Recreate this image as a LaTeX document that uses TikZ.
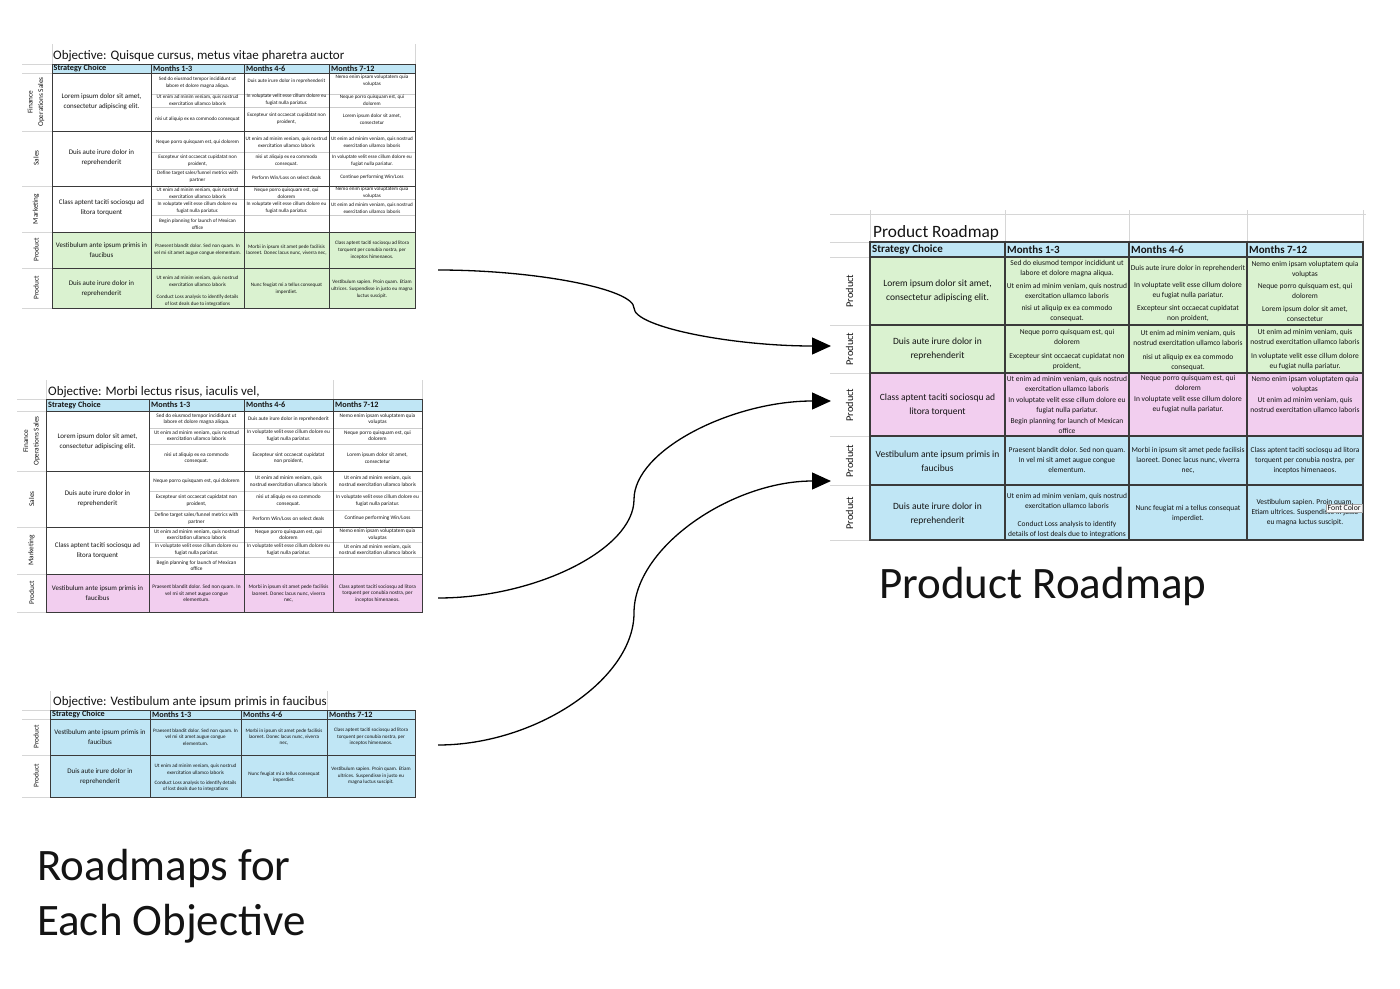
\documentclass[tikz,border=0pt]{standalone}
\usepackage{fontspec}
\setmainfont{Carlito}
\usetikzlibrary{arrows.meta}
\definecolor{hblue}{HTML}{C0E6F5}
\definecolor{lgreen}{HTML}{DAF2D0}
\definecolor{lpink}{HTML}{F2CEEF}
\definecolor{bordc}{HTML}{3A3A3A}
\definecolor{gridc}{HTML}{D6D6D6}
\definecolor{subc}{HTML}{CCCCCC}
\definecolor{txtc}{HTML}{141414}
\tikzset{
  gridl/.style={draw=gridc, line width=0.8pt},
  subl/.style={draw=subc, line width=0.5pt},
  bsm/.style={draw=bordc, line width=0.9pt},
  bbig/.style={draw=bordc, line width=1.5pt},
  tx/.style={inner sep=0pt, align=center, text=txtc},
  bodyA/.style={tx, font=\fontsize{5.1}{6.8}\selectfont},
  bodyB/.style={tx, font=\fontsize{5.3}{6.5}\selectfont},
  bodyC/.style={tx, font=\fontsize{5.1}{6.4}\selectfont},
  bodyD/.style={tx, font=\fontsize{7.5}{10}\selectfont},
  stratA/.style={tx, font=\fontsize{7}{10}\selectfont},
  stratD/.style={tx, font=\fontsize{9.5}{14}\selectfont},
  headA/.style={tx, anchor=west, font=\bfseries\fontsize{8.2}{9}\selectfont},
  headD/.style={tx, anchor=west, font=\bfseries\fontsize{11}{12}\selectfont},
  labA/.style={tx, rotate=90, font=\fontsize{7.3}{10.5}\selectfont},
  labD/.style={tx, rotate=90, font=\fontsize{10.3}{12}\selectfont},
  ttlA/.style={tx, anchor=base west, font=\fontsize{13}{14}\selectfont},
  ttlD/.style={tx, anchor=base west, font=\fontsize{17.3}{18}\selectfont},
  bigtext/.style={tx, anchor=base west, font=\fontsize{45}{50}\selectfont},
  conn/.style={draw=black, line width=1.3pt, -{Triangle[length=19pt,width=17pt]}},
}
\begin{document}
\begin{tikzpicture}[x=1pt,y=-1pt]
\fill[white] (0,0) rectangle (1400,988);
\useasboundingbox (0,0) rectangle (1400,988);

%% ================= TABLE A =================
\fill[hblue] (52,64) rectangle (415,73);
\fill[lgreen] (52,232) rectangle (415,308);
\foreach \yy in {64,73,131,186,232,268,308} \draw[gridl] (22,\yy) -- (52,\yy);
\draw[gridl] (52,44) -- (52,64);
\draw[gridl] (415,44) -- (415,64);
\foreach \yy in {94,107,152,169,199,215} \draw[subl] (151,\yy) -- (415,\yy);
\draw[bsm] (52,64) rectangle (415,308);
\foreach \yy in {73,131,186,232,268} \draw[bsm] (52,\yy) -- (415,\yy);
\foreach \xx in {151,244,329} \draw[bsm] (\xx,64) -- (\xx,308);
\node[ttlA] (a-t) at (53,59) {Objective: Quisque cursus, metus vitae pharetra auctor};
\node[headA] (a-h0) at (53.5,68.5) {Strategy Choice};
\node[headA] (a-h1) at (153,68.5) {Months 1-3};
\node[headA] (a-h2) at (246,68.5) {Months 4-6};
\node[headA] (a-h3) at (331,68.5) {Months 7-12};
\node[labA] (a-l1) at (36,102) {Finance\\Operations Sales};
\node[labA] (a-l2) at (36,158) {Sales};
\node[labA] (a-l3) at (36,209) {Marketing};
\node[labA] (a-l4) at (36,250) {Product};
\node[labA] (a-l5) at (36,288) {Product};
\node[stratA] (a-s1) at (101.5,102) {Lorem ipsum dolor sit amet,\\consectetur adipiscing elit.};
\node[stratA] (a-s2) at (101.5,158) {Duis aute irure dolor in\\reprehenderit};
\node[stratA] (a-s3) at (101.5,208) {Class aptent taciti sociosqu ad\\litora torquent};
\node[stratA] (a-s4) at (101.5,250) {Vestibulum ante ipsum primis in\\faucibus};
\node[stratA] (a-s5) at (101.5,289) {Duis aute irure dolor in\\reprehenderit};
\node[bodyA] (a-11a) at (197.5,83) {Sed do eiusmod tempor incididunt ut\\labore et dolore magna aliqua.};
\node[bodyA] (a-11b) at (197.5,100) {Ut enim ad minim veniam, quis nostrud\\exercitation ullamco laboris};
\node[bodyA] (a-11c) at (197.5,119) {nisi ut aliquip ex ea commodo consequat};
\node[bodyA] (a-12a) at (286.5,81) {Duis aute irure dolor in reprehenderit};
\node[bodyA] (a-12b) at (286.5,100) {In voluptate velit esse cillum dolore eu\\fugiat nulla pariatur.};
\node[bodyA] (a-12c) at (286.5,119) {Excepteur sint occaecat cupidatat non\\proident,};
\node[bodyA] (a-13a) at (372,81) {Nemo enim ipsam voluptatem quia\\voluptas};
\node[bodyA] (a-13b) at (372,100) {Neque porro quisquam est, qui\\dolorem};
\node[bodyA] (a-13c) at (372,119) {Lorem ipsum dolor sit amet,\\consectetur};
\node[bodyA] (a-21a) at (197.5,142) {Neque porro quisquam est, qui dolorem};
\node[bodyA] (a-21b) at (197.5,160.5) {Excepteur sint occaecat cupidatat non\\proident,};
\node[bodyA] (a-21c) at (197.5,177) {Define target sales/funnel metrics with\\partner};
\node[bodyA] (a-22a) at (286.5,142) {Ut enim ad minim veniam, quis nostrud\\exercitation ullamco laboris};
\node[bodyA] (a-22b) at (286.5,160.5) {nisi ut aliquip ex ea commodo\\consequat.};
\node[bodyA] (a-22c) at (286.5,177.5) {Perform Win/Loss on select deals};
\node[bodyA] (a-23a) at (372,142) {Ut enim ad minim veniam, quis nostrud\\exercitation ullamco laboris};
\node[bodyA] (a-23b) at (372,160.5) {In voluptate velit esse cillum dolore eu\\fugiat nulla pariatur.};
\node[bodyA] (a-23c) at (372,177.5) {Continue performing Win/Loss};
\node[bodyA] (a-31a) at (197.5,193) {Ut enim ad minim veniam, quis nostrud\\exercitation ullamco laboris};
\node[bodyA] (a-31b) at (197.5,208) {In voluptate velit esse cillum dolore eu\\fugiat nulla pariatur.};
\node[bodyA] (a-31c) at (197.5,224.5) {Begin planning for launch of Mexican\\office};
\node[bodyA] (a-32a) at (286.5,193) {Neque porro quisquam est, qui\\dolorem};
\node[bodyA] (a-32b) at (286.5,208) {In voluptate velit esse cillum dolore eu\\fugiat nulla pariatur.};
\node[bodyA] (a-33a) at (372,193) {Nemo enim ipsam voluptatem quia\\voluptas};
\node[bodyA] (a-33b) at (372,208) {Ut enim ad minim veniam, quis nostrud\\exercitation ullamco laboris};
\node[bodyA] (a-41) at (197.5,250) {Praesent blandit dolor. Sed non quam. In\\vel mi sit amet augue congue elementum.};
\node[bodyA] (a-42) at (286.5,250) {Morbi in ipsum sit amet pede facilisis\\laoreet. Donec lacus nunc, viverra nec,};
\node[bodyA] (a-43) at (372,250) {Class aptent taciti sociosqu ad litora\\torquent per conubia nostra, per\\inceptos himenaeos.};
\node[bodyA] (a-51) at (197.5,291) {Ut enim ad minim veniam, quis nostrud\\exercitation ullamco laboris\\[5pt]Conduct Loss analysis to identify details\\of lost deals due to integrations};
\node[bodyA] (a-52) at (286.5,289) {Nunc feugiat mi a tellus consequat\\imperdiet.};
\node[bodyA] (a-53) at (372,289) {Vestibulum sapien. Proin quam. Etiam\\ultrices. Suspendisse in justo eu magna\\luctus suscipit.};

%% ================= TABLE B =================
\fill[hblue] (46,399) rectangle (422,411);
\fill[lpink] (46,574) rectangle (422,612);
\foreach \yy in {399,411,471,527,574,612} \draw[gridl] (17,\yy) -- (46,\yy);
\draw[gridl] (46,380) -- (46,399);
\draw[gridl] (333,380) -- (333,399);
\draw[gridl] (422,380) -- (422,399);
\foreach \yy in {428,444,491,510,542,557} \draw[subl] (149,\yy) -- (422,\yy);
\draw[bsm] (46,399) rectangle (422,612);
\foreach \yy in {411,471,527,574} \draw[bsm] (46,\yy) -- (422,\yy);
\foreach \xx in {149,244,333} \draw[bsm] (\xx,399) -- (\xx,612);
\node[ttlA] (b-t) at (48,395.5) {Objective: Morbi lectus risus, iaculis vel,};
\node[headA] (b-h0) at (48,405) {Strategy Choice};
\node[headA] (b-h1) at (151,405) {Months 1-3};
\node[headA] (b-h2) at (246,405) {Months 4-6};
\node[headA] (b-h3) at (335,405) {Months 7-12};
\node[labA] (b-l1) at (31.5,441) {Finance\\Operations Sales};
\node[labA] (b-l2) at (31.5,499) {Sales};
\node[labA] (b-l3) at (31.5,550.5) {Marketing};
\node[labA] (b-l4) at (31.5,593) {Product};
\node[stratA] (b-s1) at (97.5,441.5) {Lorem ipsum dolor sit amet,\\consectetur adipiscing elit.};
\node[stratA] (b-s2) at (97.5,499) {Duis aute irure dolor in\\reprehenderit};
\node[stratA] (b-s3) at (97.5,550.5) {Class aptent taciti sociosqu ad\\litora torquent};
\node[stratA] (b-s4) at (97.5,593) {Vestibulum ante ipsum primis in\\faucibus};
\node[bodyB] (b-11a) at (196.5,419) {Sed do eiusmod tempor incididunt ut\\labore et dolore magna aliqua.};
\node[bodyB] (b-11b) at (196.5,435.8) {Ut enim ad minim veniam, quis nostrud\\exercitation ullamco laboris};
\node[bodyB] (b-11c) at (196.5,458) {nisi ut aliquip ex ea commodo\\consequat.};
\node[bodyB] (b-12a) at (288.5,419) {Duis aute irure dolor in reprehenderit};
\node[bodyB] (b-12b) at (288.5,435.8) {In voluptate velit esse cillum dolore eu\\fugiat nulla pariatur.};
\node[bodyB] (b-12c) at (288.5,458) {Excepteur sint occaecat cupidatat\\non proident,};
\node[bodyB] (b-13a) at (377.5,419) {Nemo enim ipsam voluptatem quia\\voluptas};
\node[bodyB] (b-13b) at (377.5,435.8) {Neque porro quisquam est, qui\\dolorem};
\node[bodyB] (b-13c) at (377.5,458) {Lorem ipsum dolor sit amet,\\consectetur};
\node[bodyB] (b-21a) at (196.5,481) {Neque porro quisquam est, qui dolorem};
\node[bodyB] (b-21b) at (196.5,500.5) {Excepteur sint occaecat cupidatat non\\proident,};
\node[bodyB] (b-21c) at (196.5,518.5) {Define target sales/funnel metrics with\\partner};
\node[bodyB] (b-22a) at (288.5,481) {Ut enim ad minim veniam, quis\\nostrud exercitation ullamco laboris};
\node[bodyB] (b-22b) at (288.5,500.5) {nisi ut aliquip ex ea commodo\\consequat.};
\node[bodyB] (b-22c) at (288.5,518.5) {Perform Win/Loss on select deals};
\node[bodyB] (b-23a) at (377.5,481) {Ut enim ad minim veniam, quis\\nostrud exercitation ullamco laboris};
\node[bodyB] (b-23b) at (377.5,500.5) {In voluptate velit esse cillum dolore eu\\fugiat nulla pariatur.};
\node[bodyB] (b-23c) at (377.5,518.5) {Continue performing Win/Loss};
\node[bodyB] (b-31a) at (196.5,534.5) {Ut enim ad minim veniam, quis nostrud\\exercitation ullamco laboris};
\node[bodyB] (b-31b) at (196.5,549.5) {In voluptate velit esse cillum dolore eu\\fugiat nulla pariatur.};
\node[bodyB] (b-31c) at (196.5,565.5) {Begin planning for launch of Mexican\\office};
\node[bodyB] (b-32a) at (288.5,534.5) {Neque porro quisquam est, qui\\dolorem};
\node[bodyB] (b-32b) at (288.5,549.5) {In voluptate velit esse cillum dolore eu\\fugiat nulla pariatur.};
\node[bodyB] (b-33a) at (377.5,534.5) {Nemo enim ipsam voluptatem quia\\voluptas};
\node[bodyB] (b-33b) at (377.5,549.5) {Ut enim ad minim veniam, quis\\nostrud exercitation ullamco laboris};
\node[bodyB] (b-41) at (196.5,593.5) {Praesent blandit dolor. Sed non quam. In\\vel mi sit amet augue congue\\elementum.};
\node[bodyB] (b-42) at (288.5,593.5) {Morbi in ipsum sit amet pede facilisis\\laoreet. Donec lacus nunc, viverra\\nec,};
\node[bodyB] (b-43) at (377.5,593.5) {Class aptent taciti sociosqu ad litora\\torquent per conubia nostra, per\\inceptos himenaeos.};

%% ================= TABLE C =================
\fill[hblue] (50,710) rectangle (415,797);
\foreach \yy in {710,719,755,797} \draw[gridl] (22,\yy) -- (50,\yy);
\draw[gridl] (50,691) -- (50,710);
\draw[gridl] (327,691) -- (327,710);
\draw[bsm] (50,710) rectangle (415,797);
\foreach \yy in {719,755} \draw[bsm] (50,\yy) -- (415,\yy);
\foreach \xx in {150,241,327} \draw[bsm] (\xx,710) -- (\xx,797);
\node[ttlA] (c-t) at (53,705) {Objective: Vestibulum ante ipsum primis in faucibus};
\node[headA] (c-h0) at (52,714.5) {Strategy Choice};
\node[headA] (c-h1) at (152,714.5) {Months 1-3};
\node[headA] (c-h2) at (243,714.5) {Months 4-6};
\node[headA] (c-h3) at (329,714.5) {Months 7-12};
\node[labA] (c-l1) at (36,737) {Product};
\node[labA] (c-l2) at (36,776) {Product};
\node[stratA] (c-s1) at (100,737) {Vestibulum ante ipsum primis in\\faucibus};
\node[stratA] (c-s2) at (100,777) {Duis aute irure dolor in\\reprehenderit};
\node[bodyC] (c-11) at (195.5,737) {Praesent blandit dolor. Sed non quam. In\\vel mi sit amet augue congue\\elementum.};
\node[bodyC] (c-12) at (284,737) {Morbi in ipsum sit amet pede facilisis\\laoreet. Donec lacus nunc, viverra\\nec,};
\node[bodyC] (c-13) at (371,737) {Class aptent taciti sociosqu ad litora\\torquent per conubia nostra, per\\inceptos himenaeos.};
\node[bodyC] (c-21) at (195.5,778) {Ut enim ad minim veniam, quis nostrud\\exercitation ullamco laboris\\[4pt]Conduct Loss analysis to identify details\\of lost deals due to integrations};
\node[bodyC] (c-22) at (284,777) {Nunc feugiat mi a tellus consequat\\imperdiet.};
\node[bodyC] (c-23) at (371,776) {Vestibulum sapien. Proin quam. Etiam\\ultrices. Suspendisse in justo eu\\magna luctus suscipit.};

%% ================= TABLE D =================
\fill[hblue] (870,242) rectangle (1363,257);
\fill[lgreen] (870,257) rectangle (1363,373);
\fill[lpink] (870,373) rectangle (1363,436);
\fill[hblue] (870,436) rectangle (1363,540);
\draw[gridl] (830,214) -- (1366,214);
\foreach \xx in {870,1005,1129,1247,1363} \draw[gridl] (\xx,210) -- (\xx,242);
\foreach \yy in {242,257,325,373,436,485,540} \draw[gridl] (830,\yy) -- (870,\yy);
\draw[bbig] (870,242) rectangle (1363,540);
\foreach \yy in {257,325,373,436,485} \draw[bbig] (870,\yy) -- (1363,\yy);
\foreach \xx in {1005,1129,1247} \draw[bbig] (\xx,242) -- (\xx,540);
\node[ttlD] (d-t) at (873,237) {Product Roadmap};
\node[headD] (d-h0) at (872,249.5) {Strategy Choice};
\node[headD] (d-h1) at (1007,249.5) {Months 1-3};
\node[headD] (d-h2) at (1131,249.5) {Months 4-6};
\node[headD] (d-h3) at (1249,249.5) {Months 7-12};
\node[labD] (d-l1) at (849.5,291) {Product};
\node[labD] (d-l2) at (849.5,349) {Product};
\node[labD] (d-l3) at (849.5,405) {Product};
\node[labD] (d-l4) at (849.5,461) {Product};
\node[labD] (d-l5) at (849.5,513) {Product};
\node[stratD] (d-s1) at (937.5,291) {Lorem ipsum dolor sit amet,\\consectetur adipiscing elit.};
\node[stratD] (d-s2) at (937.5,349) {Duis aute irure dolor in\\reprehenderit};
\node[stratD] (d-s3) at (937.5,405) {Class aptent taciti sociosqu ad\\litora torquent};
\node[stratD] (d-s4) at (937.5,461) {Vestibulum ante ipsum primis in\\faucibus};
\node[stratD] (d-s5) at (937.5,514) {Duis aute irure dolor in\\reprehenderit};
\node[bodyD] (d-11) at (1067,291) {Sed do eiusmod tempor incididunt ut\\labore et dolore magna aliqua.\\[2.5pt]Ut enim ad minim veniam, quis nostrud\\exercitation ullamco laboris\\[2.5pt]nisi ut aliquip ex ea commodo\\consequat.};
\node[bodyD] (d-12) at (1188,293) {Duis aute irure dolor in reprehenderit\\[7pt]In voluptate velit esse cillum dolore\\eu fugiat nulla pariatur.\\[3pt]Excepteur sint occaecat cupidatat\\non proident,};
\node[bodyD] (d-13) at (1305,291) {Nemo enim ipsam voluptatem quia\\voluptas\\[2.5pt]Neque porro quisquam est, qui\\dolorem\\[2.5pt]Lorem ipsum dolor sit amet,\\consectetur};
\node[bodyD] (d-21) at (1067,350) {Neque porro quisquam est, qui\\dolorem\\[4pt]Excepteur sint occaecat cupidatat non\\proident,};
\node[bodyD] (d-22) at (1188,350) {Ut enim ad minim veniam, quis\\nostrud exercitation ullamco laboris\\[4pt]nisi ut aliquip ex ea commodo\\consequat.};
\node[bodyD] (d-23) at (1305,350) {Ut enim ad minim veniam, quis\\nostrud exercitation ullamco laboris\\[4pt]In voluptate velit esse cillum dolore\\eu fugiat nulla pariatur.};
\node[bodyD] (d-31) at (1067,405) {Ut enim ad minim veniam, quis nostrud\\exercitation ullamco laboris\\[1pt]In voluptate velit esse cillum dolore eu\\fugiat nulla pariatur.\\[1pt]Begin planning for launch of Mexican\\office};
\node[bodyD] (d-32) at (1188,394.5) {Neque porro quisquam est, qui\\dolorem\\[1pt]In voluptate velit esse cillum dolore\\eu fugiat nulla pariatur.};
\node[bodyD] (d-33) at (1305,394.5) {Nemo enim ipsam voluptatem quia\\voluptas\\[1pt]Ut enim ad minim veniam, quis\\nostrud exercitation ullamco laboris};
\node[bodyD] (d-41) at (1067,460) {Praesent blandit dolor. Sed non quam.\\In vel mi sit amet augue congue\\elementum.};
\node[bodyD] (d-42) at (1188,460) {Morbi in ipsum sit amet pede facilisis\\laoreet. Donec lacus nunc, viverra\\nec,};
\node[bodyD] (d-43) at (1305,460) {Class aptent taciti sociosqu ad litora\\torquent per conubia nostra, per\\inceptos himenaeos.};
\node[bodyD] (d-51) at (1067,516) {Ut enim ad minim veniam, quis nostrud\\exercitation ullamco laboris\\[8pt]Conduct Loss analysis to identify\\details of lost deals due to integrations};
\node[bodyD] (d-52) at (1188,513) {Nunc feugiat mi a tellus consequat\\imperdiet.};
\node[bodyD] (d-53) at (1305,512.5) {Vestibulum sapien. Proin quam.\\Etiam ultrices. Suspendisse in justo\\eu magna luctus suscipit.};
\begin{scope}
\clip (1320,498) rectangle (1366,518);
\node[draw=gray!70, fill=gray!6, anchor=west, inner sep=1.5pt, text=txtc, font=\fontsize{7.8}{8}\selectfont] (tip) at (1326,508) {Font Color};
\end{scope}

%% ================= CAPTIONS =================
\node[bigtext] (cap-r) at (879,598) {Product Roadmap};
\node[bigtext] (cap-e1) at (37,880) {Roadmaps for};
\node[bigtext] (cap-e2) at (37,935) {Each Objective};

%% ================= CONNECTORS =================
\coordinate (s1) at (438,270);
\coordinate (e1) at (831,346);
\coordinate (s2) at (438,598);
\coordinate (e2) at (831,401);
\coordinate (s3) at (438,745);
\coordinate (e3) at (831,481);
\draw[conn] (s1) .. controls (536,270) and (634,289) .. (634,308) .. controls (634,327) and (732,346) .. (e1);
\draw[conn] (s2) .. controls (536,598) and (634,549) .. (634,499.5) .. controls (634,450) and (732,401) .. (e2);
\draw[conn] (s3) .. controls (536,745) and (634,679) .. (634,613) .. controls (634,547) and (732,481) .. (e3);
\end{tikzpicture}
\end{document}
